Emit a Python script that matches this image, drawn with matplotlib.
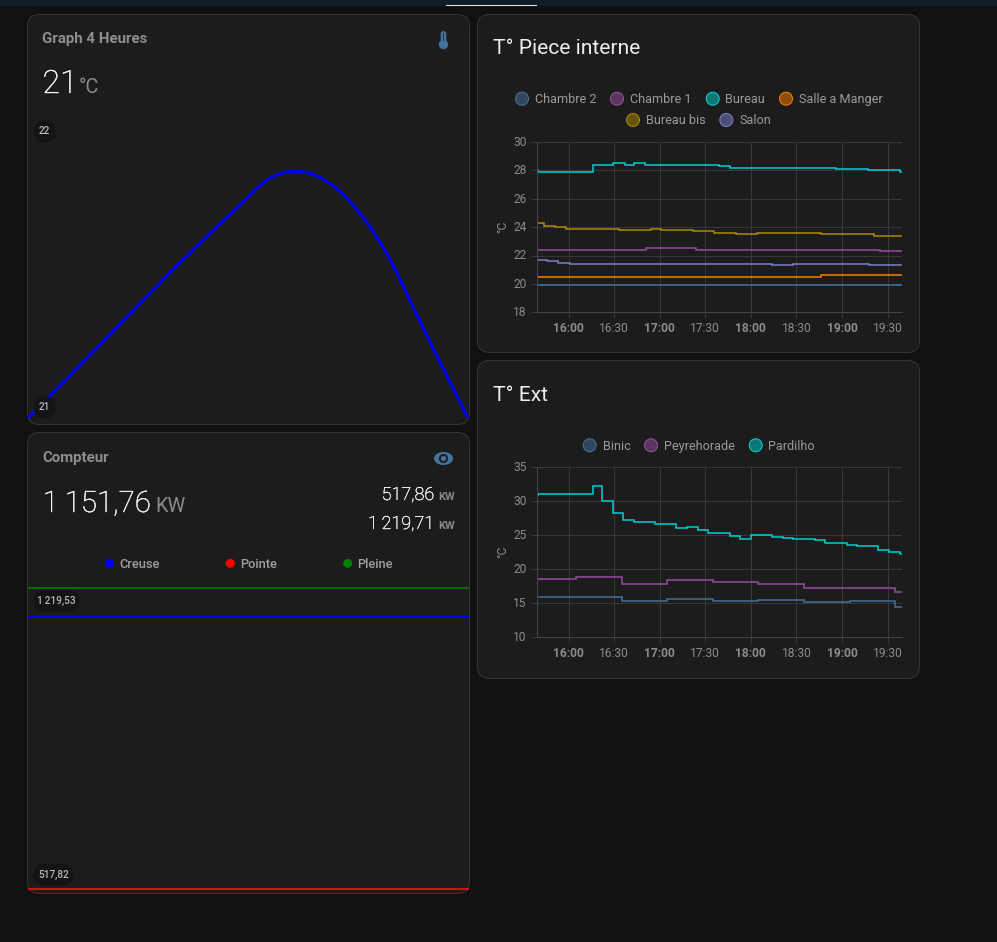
import pandas as pd
import matplotlib
matplotlib.use("Agg")
import matplotlib.pyplot as plt
import matplotlib.patheffects as pe
from matplotlib.patches import Circle, Ellipse, FancyBboxPatch, PathPatch, Rectangle
from matplotlib.path import Path
from matplotlib.transforms import ScaledTranslation

plt.rcParams['font.family'] = ['Roboto', 'DejaVu Sans']

W, H = 997, 942
PX = 0.72  # one pixel in points at dpi 100

# T° Piece interne
chambre2_t = ["15:39", "19:40"]
chambre2_v = [19.9, 19.9]
chambre1_t = ["15:39", "16:51", "17:24", "19:25", "19:40"]
chambre1_v = [22.4, 22.5, 22.4, 22.3, 22.3]
bureau_t = ["15:39", "15:40", "16:16", "16:29", "16:37", "16:43", "16:50", "17:39", "17:46", "18:56", "19:17", "19:38", "19:40"]
bureau_v = [28.0, 27.9, 28.4, 28.5, 28.4, 28.5, 28.4, 28.3, 28.2, 28.1, 28.0, 27.9, 27.9]
salle_t = ["15:39", "18:46", "19:40"]
salle_v = [20.5, 20.6, 20.6]
bureau_bis_t = ["15:39", "15:44", "15:51", "15:58", "16:33", "16:54", "17:01", "17:22", "17:36", "17:50", "18:04", "18:46", "19:21", "19:40"]
bureau_bis_v = [24.3, 24.1, 24.0, 23.9, 23.8, 23.9, 23.8, 23.7, 23.6, 23.5, 23.6, 23.5, 23.4, 23.4]
salon_t = ["15:39", "15:46", "15:53", "16:01", "18:14", "18:28", "19:18", "19:40"]
salon_v = [21.7, 21.6, 21.5, 21.4, 21.3, 21.4, 21.3, 21.3]

# T° Ext
binic_t = ["15:39", "16:35", "17:05", "17:35", "18:05", "18:35", "19:05", "19:35", "19:40"]
binic_v = [16.0, 15.3, 15.6, 15.4, 15.5, 15.2, 15.4, 14.5, 14.5]
peyre_t = ["15:39", "16:05", "16:35", "17:05", "17:35", "18:05", "18:35", "19:05", "19:35", "19:40"]
peyre_v = [18.6, 18.8, 17.9, 18.4, 18.1, 17.8, 17.3, 17.2, 16.6, 16.6]
pardilho_t = ["15:39", "15:40", "16:16", "16:22", "16:29", "16:36", "16:43", "16:57", "17:04", "17:11", "17:18", "17:25",
              "17:32", "17:46", "17:53", "18:00", "18:14", "18:21", "18:28", "18:42", "18:49", "19:03", "19:10", "19:24",
              "19:31", "19:38", "19:40"]
pardilho_v = [31.0, 31.1, 32.2, 30.1, 28.3, 27.3, 27.0, 26.7, 26.6, 26.1, 26.2, 25.8,
              25.3, 24.9, 24.5, 25.0, 24.7, 24.6, 24.5, 24.3, 23.8, 23.6, 23.4,
              22.9, 22.6, 22.3, 22.3]

tick_times = ["16:00", "16:30", "17:00", "17:30", "18:00", "18:30", "19:00", "19:30"]

# Graph 4 Heures
graph_hours = [0, 0.489, 0.987, 1.472, 1.973, 2.125, 2.276, 2.443, 2.58, 2.731, 2.883, 3.035, 3.186, 3.338, 3.49, 3.641, 3.793, 4]
graph_temp = [21.0, 21.22, 21.45, 21.67, 21.88, 21.95, 21.99, 22.0, 21.99, 21.955, 21.9, 21.82, 21.725, 21.605, 21.46, 21.32, 21.185, 21.0]

# Compteur
compteur_hours = [0, 4]
creuse = [1151.76, 1151.76]
pointe = [517.86, 517.86]
pleine = [1219.71, 1219.71]

BG = "#111111"
CARD = "#1c1c1c"
BORDER = "#343434"
BUBBLE = "#141414"
GRID = "#383838"
TICK = "#8c8c8c"
PRIMARY = "#e1e1e1"
SECONDARY = "#9b9b9b"
ICON = "#44739e"
THIN = "\u2009"


def to_time(values):
    return pd.to_datetime(["2023-07-01 " + v for v in values])


def px_axes(fig, left, top, right, bottom, zorder=1):
    a = fig.add_axes([left / W, 1 - bottom / H, (right - left) / W, (bottom - top) / H], zorder=zorder)
    a.patch.set_alpha(0)
    return a


def card(ax, left, top, right, bottom):
    box = FancyBboxPatch((left, top), right - left, bottom - top, boxstyle="round,pad=0,rounding_size=12",
                         fc=CARD, ec=BORDER, lw=1 * PX)
    ax.add_patch(box)
    return box


def txt(ax, x, y, s, size, color=PRIMARY, ha="left", va="baseline", **kw):
    return ax.text(x, y, s, fontsize=size * PX, color=color, ha=ha, va=va, **kw)


def big_txt(ax, x, y, s, size, ha="left"):
    # light weight comes out too faint here, so thicken it a little
    t = txt(ax, x, y, s, size, color="#f4f4f4", ha=ha, fontweight="light")
    t.set_path_effects([pe.withStroke(linewidth=0.4 * PX, foreground="#f4f4f4")])
    return t


def bubble(ax, left, right, cy, s):
    h = 22
    ax.add_patch(FancyBboxPatch((left, cy - h / 2), right - left, h, boxstyle="round,pad=0,rounding_size=11",
                                fc=BUBBLE, ec="none", alpha=0.92))
    txt(ax, (left + right) / 2, cy, s, 10, color="#b8b8b8", ha="center", va="center", fontweight="medium")


def legend_item(ax, cx, tx, cy, label, color):
    ax.add_patch(Circle((cx, cy), 6.5, fc=matplotlib.colors.to_rgba(color, 0.5), ec=color, lw=1 * PX))
    txt(ax, tx, cy - 0.7, label, 12.6, color=SECONDARY, va="center_baseline")


def smooth_path(xs, ys):
    # quadratic segments through the midpoints, the way the card draws its line
    verts = [(xs[0], ys[0])]
    codes = [Path.MOVETO]
    for i in range(1, len(xs) - 1):
        verts += [(xs[i], ys[i]), ((xs[i] + xs[i + 1]) / 2, (ys[i] + ys[i + 1]) / 2)]
        codes += [Path.CURVE3, Path.CURVE3]
    verts.append((xs[-1], ys[-1]))
    codes.append(Path.LINETO)
    return Path(verts, codes)


def history_chart(a, series, ylim, yticks):
    for t, v, c in series:
        a.step(to_time(t), v, where="post", color=c, lw=1.5 * PX, solid_joinstyle="miter")
    a.set_xlim(pd.Timestamp("2023-07-01 15:39"), pd.Timestamp("2023-07-01 19:39:30"))
    a.set_ylim(*ylim)
    a.set_yticks(yticks)
    a.set_xticks(to_time(tick_times))
    a.set_xticklabels(tick_times)
    a.grid(True, color=GRID, lw=1 * PX)
    a.set_axisbelow(True)
    for s in ["top", "right"]:
        a.spines[s].set_visible(False)
    for s in ["left", "bottom"]:
        a.spines[s].set_color("#454545")
        a.spines[s].set_linewidth(1 * PX)
    a.tick_params(colors=GRID, length=6 * PX, width=1 * PX, labelcolor=TICK, labelsize=12 * PX, pad=3)
    a.tick_params(axis="x", pad=3)
    for lab in a.get_xticklabels():
        if lab.get_text().endswith(":00"):
            lab.set_fontweight("bold")
    up = ScaledTranslation(0, 1.2 / 100, a.figure.dpi_scale_trans)
    for lab in a.get_yticklabels():
        lab.set_transform(lab.get_transform() + up)
    a.set_ylabel("°C", color=TICK, fontsize=12 * PX, labelpad=3)


fig = plt.figure(figsize=(W / 100, H / 100), dpi=100, facecolor=BG)

back = px_axes(fig, 0, 0, W, H, zorder=0)
back.set_xlim(0, W)
back.set_ylim(H, 0)
back.axis("off")
front = px_axes(fig, 0, 0, W, H, zorder=3)
front.set_xlim(0, W)
front.set_ylim(H, 0)
front.axis("off")

# top bar
back.add_patch(Rectangle((0, 0), W, 5.5, fc="#0f1d27", ec="none"))
back.add_patch(Rectangle((445.5, 4.5), 91.5, 1.5, fc="#e8e8e8", ec="none"))

card_graph = card(back, 27.5, 14.5, 469.5, 424.5)
card_compteur = card(back, 27.5, 432.5, 469.5, 893.5)
card(back, 477.5, 14.5, 919.5, 352.5)
card(back, 477.5, 360.5, 919.5, 678.5)

# Graph 4 Heures
txt(back, 42, 43, "Graph 4 Heures", 15, color="#8e8e8e", fontweight="bold")
big_txt(back, 42.5, 93, "21", 32)
txt(back, 79, 93, "°C", 20, color="#8a8a8a")
front.add_patch(FancyBboxPatch((440.7, 31), 5.6, 12, boxstyle="round,pad=0,rounding_size=2.8", fc=ICON, ec="none"))
front.add_patch(Circle((443.5, 44.5), 4.7, fc=ICON, ec="none"))
front.add_patch(Rectangle((442.8, 33), 1.4, 7.5, fc="#1c2a36", ec="none"))

ax_graph = px_axes(fig, 28.3, 170.7, 467.7, 417.7)
ax_graph.axis("off")
ax_graph.set_xlim(0, 4)
ax_graph.set_ylim(21, 22)
curve = PathPatch(smooth_path(graph_hours, graph_temp), fc="none", ec="#0000ff", lw=3 * PX, capstyle="butt",
                  transform=ax_graph.transData, clip_on=False)
ax_graph.add_patch(curve)
curve.set_clip_path(card_graph)
bubble(front, 33.5, 55.5, 131.5, "22")
bubble(front, 33.5, 55.5, 407.5, "21")

# Compteur
txt(back, 42, 462, "Compteur", 15, color="#8e8e8e", fontweight="bold")
big_txt(back, 42.5, 512, "1" + THIN + "151,76", 29.5)
txt(back, 155, 512, "KW", 20, color="#8a8a8a")
big_txt(back, 434.5, 500, "517,86", 18, ha="right")
txt(back, 454.5, 500, "KW", 11, color="#8a8a8a", ha="right", fontweight="bold")
big_txt(back, 434.5, 529, "1" + THIN + "219,71", 18, ha="right")
txt(back, 454.5, 529, "KW", 11, color="#8a8a8a", ha="right", fontweight="bold")
front.add_patch(Ellipse((443.5, 458.5), 19, 13, fc=ICON, ec="none"))
front.add_patch(Circle((443.5, 458.5), 4.6, fc="#1c1c1c", ec="none"))
front.add_patch(Circle((443.5, 458.5), 2.6, fc=ICON, ec="none"))

for cx, tx, label, c in [(109.3, 119, "Creuse", "#0000ff"), (230.3, 240, "Pointe", "#ff0000"), (347.7, 357.3, "Pleine", "#008000")]:
    back.add_patch(Circle((cx, 563.3), 4.5, fc=c, ec="none"))
    txt(back, tx, 562.5, label, 12.8, color="#a0a0a0", va="center_baseline", fontweight="medium")

ax_comp = px_axes(fig, 28, 587.7, 469, 889)
ax_comp.axis("off")
ax_comp.set_xlim(0, 4)
ax_comp.set_ylim(517.86, 1219.71)
for values, c, lw in [(pleine, "#008000", 1.6), (creuse, "#0000ff", 2), (pointe, "#e81010", 1.8)]:
    ln, = ax_comp.plot(compteur_hours, values, color=c, lw=lw * PX, clip_on=False, solid_capstyle="butt")
    ln.set_clip_path(card_compteur)
bubble(front, 33, 80, 601, "1" + THIN + "219,53")
bubble(front, 33, 73.5, 875, "517,82")

# T° Piece interne
txt(back, 493, 54, "T° Piece interne", 21, color="#eeeeee")
legend_item(back, 522, 534.7, 98.7, "Chambre 2", "#44739e")
legend_item(back, 617, 630, 98.7, "Chambre 1", "#984ea3")
legend_item(back, 712.7, 725.3, 98.7, "Bureau", "#00d2d5")
legend_item(back, 786, 799, 98.7, "Salle a Manger", "#ff7f00")
legend_item(back, 633, 646, 120, "Bureau bis", "#af8d00")
legend_item(back, 726.3, 739.5, 120, "Salon", "#7f80cd")

ax_in = px_axes(fig, 536.7, 142, 902, 312.3)
history_chart(ax_in, [(chambre2_t, chambre2_v, "#44739e"), (chambre1_t, chambre1_v, "#984ea3"),
                      (bureau_t, bureau_v, "#00d2d5"), (salle_t, salle_v, "#ff7f00"),
                      (bureau_bis_t, bureau_bis_v, "#af8d00"), (salon_t, salon_v, "#7f80cd")],
              (18, 30), [18, 20, 22, 24, 26, 28, 30])

# T° Ext
txt(back, 493, 401, "T° Ext", 21, color="#eeeeee")
legend_item(back, 589.7, 602.5, 445.3, "Binic", "#44739e")
legend_item(back, 651, 664, 445.3, "Peyrehorade", "#984ea3")
legend_item(back, 755.7, 768, 445.3, "Pardilho", "#00d2d5")

ax_ext = px_axes(fig, 536.7, 467.3, 902, 637.3)
history_chart(ax_ext, [(binic_t, binic_v, "#44739e"), (peyre_t, peyre_v, "#984ea3"), (pardilho_t, pardilho_v, "#00d2d5")],
              (10, 35), [10, 15, 20, 25, 30, 35])

fig.savefig("out.png", dpi=100, facecolor=BG)
